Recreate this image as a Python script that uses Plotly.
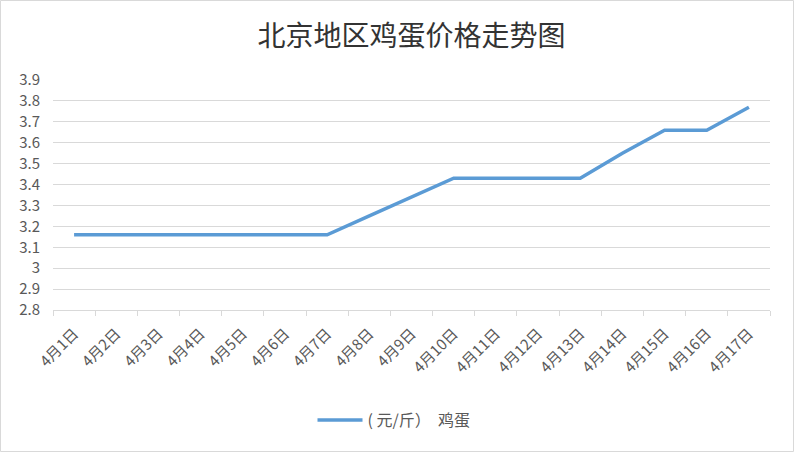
import plotly.graph_objects as go

categories = [f"4月{d}日" for d in range(1, 18)]
prices = [3.16, 3.16, 3.16, 3.16, 3.16, 3.16, 3.16, 3.25, 3.34, 3.43,
          3.43, 3.43, 3.43, 3.55, 3.66, 3.66, 3.77]
series_name = "( 元/斤）  鸡蛋"
y_ticks = [2.8, 2.9, 3.0, 3.1, 3.2, 3.3, 3.4, 3.5, 3.6, 3.7, 3.8, 3.9]
y_labels = ["2.8", "2.9", "3", "3.1", "3.2", "3.3", "3.4", "3.5", "3.6", "3.7", "3.8", "3.9"]

FONT = "Noto Sans CJK SC, Microsoft YaHei, sans-serif"

fig = go.Figure()
fig.add_trace(go.Scatter(
    x=categories, y=prices, mode="lines", name=series_name,
    line=dict(color="#5B9BD5", width=3.5),
))

L, R, T, B = 53, 24, 80, 142
W, H = 794, 452
pw, ph = W - L - R, H - T - B

fig.update_layout(
    width=W, height=H,
    margin=dict(l=L, r=R, t=T, b=B, autoexpand=False),
    paper_bgcolor="white", plot_bgcolor="white",
    title=dict(text="北京地区鸡蛋价格走势图", x=0.5, xanchor="center",
               xref="paper", yref="container",
               y=1 - 36 / H, yanchor="middle",
               font=dict(family=FONT, size=28, color="#333333")),
    font=dict(family=FONT, color="#595959", size=13),
    showlegend=True,
    legend=dict(orientation="h", x=(394 - L) / pw, xanchor="center",
                yref="container", y=1 - 420 / H, yanchor="middle",
                itemwidth=45,
                font=dict(family=FONT, size=16, color="#595959")),
    xaxis=dict(
        type="category", tickangle=-45, tickson="boundaries",
        ticks="outside", ticklen=5, tickcolor="#D9D9D9",
        showline=True, linecolor="#D9D9D9", linewidth=1,
        showgrid=False, tickfont=dict(size=15, color="#595959"),
        ticklabelstandoff=8,
        range=[-0.5, 16.5], automargin=False,
    ),
    yaxis=dict(
        range=[2.8, 3.9], tickvals=y_ticks, ticktext=y_labels,
        showgrid=True, gridcolor="#D9D9D9", gridwidth=1,
        zeroline=False, showline=False, ticks="", ticklabelstandoff=12,
        tickfont=dict(size=15, color="#595959"), automargin=False,
    ),
    shapes=[dict(
        type="rect", xref="paper", yref="paper",
        x0=(0.5 - L) / pw, x1=(W - 0.5 - L) / pw,
        y0=-(B - 0.5) / ph,
        y1=1 + (T - 0.5) / ph,
        line=dict(color="#D9D9D9", width=1),
    )],
)

fig.write_html("out.html",
               config={"displayModeBar": False},
               post_script="document.body.style.margin='0';document.body.style.overflow='hidden';")
